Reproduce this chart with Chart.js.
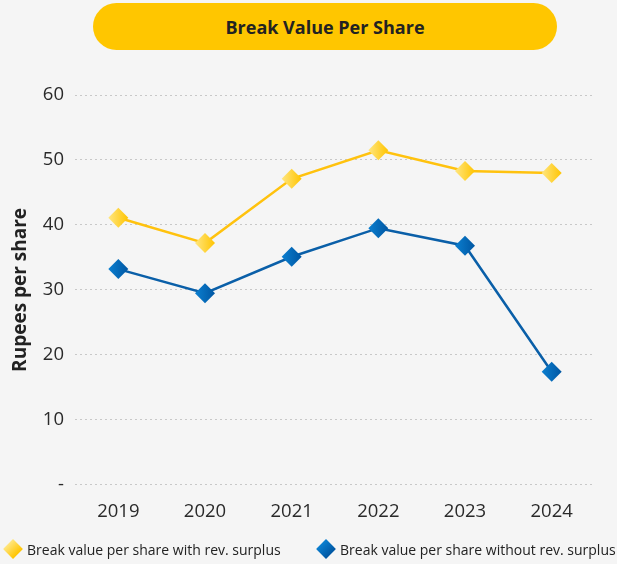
<!DOCTYPE html>
<html>
<head>
<meta charset="utf-8">
<script src="https://cdn.jsdelivr.net/npm/chart.js@4"></script>
<style>
  html, body { margin: 0; padding: 0; background: #f5f5f5; }
  #wrap { position: relative; width: 617px; height: 564px; overflow: hidden; }
  #title {
    position: absolute; left: 93px; top: 3px; width: 464px; height: 47px;
    background: #ffc600; border-radius: 24px;
    font: bold 18px 'Open Sans', sans-serif; color: #222;
    display: flex; align-items: center; justify-content: center;
  }
  canvas { position: absolute; left: 0; top: 0; }
  .legend-item {
    position: absolute; top: 539px; height: 20px;
    display: flex; align-items: center;
    font: 14px 'Open Sans', sans-serif; color: #222; white-space: nowrap;
  }
  .legend-item i {
    display: inline-block; width: 14px; height: 14px; margin: 0 7px 0 3px;
    transform: rotate(45deg);
  }
  #leg1 { left: 3px; }
  #leg2 { left: 316px; }
  #leg1 i { background: linear-gradient(90deg, #ffe680, #ffc400); }
  #leg2 i { background: linear-gradient(90deg, #0b7fd0, #0056a2); }
</style>
</head>
<body>
<div id="wrap">
  <canvas id="bvps" width="617" height="564"></canvas>
  <div id="title">Break Value Per Share</div>
  <div class="legend-item" id="leg1"><i></i><span id="leg1text"></span></div>
  <div class="legend-item" id="leg2"><i></i><span id="leg2text"></span></div>
</div>
<script>
const years = ['2019', '2020', '2021', '2022', '2023', '2024'];
const seriesNames = ['Break value per share with rev. surplus', 'Break value per share without rev. surplus'];
const withSurplus = [41.1, 37.2, 47.1, 51.5, 48.3, 48.0];
const withoutSurplus = [33.2, 29.5, 35.1, 39.5, 36.8, 17.4];
const yTicks = [0, 10, 20, 30, 40, 50, 60];

const YELLOW = '#ffc20e';
const BLUE = '#0a5fa8';

// horizontal gradient across each diamond marker
const markerFill = (light, dark) => (ctx) => {
    const chart = ctx.chart;
    const x = chart.scales && chart.scales.x ? chart.scales.x.getPixelForValue(ctx.dataIndex) : null;
    if (x === null || Number.isNaN(x)) return dark;
    const g = chart.ctx.createLinearGradient(x - 10, 0, x + 10, 0);
    g.addColorStop(0, light);
    g.addColorStop(1, dark);
    return g;
};

document.addEventListener('DOMContentLoaded', () => {
    document.getElementById('leg1text').textContent = seriesNames[0];
    document.getElementById('leg2text').textContent = seriesNames[1];

    Chart.defaults.font.family = "'Open Sans', sans-serif";
    Chart.defaults.color = '#2a2a2a';

    new Chart(document.getElementById('bvps'), {
        type: 'line',
        data: {
            labels: years,
            datasets: [{
                label: seriesNames[0],
                data: withSurplus,
                borderColor: YELLOW,
                pointBackgroundColor: markerFill('#ffe680', '#ffc400'),
                pointBorderWidth: 0,
                pointStyle: 'rectRot',
                pointRadius: 10,
                borderWidth: 2.5,
                tension: 0
            }, {
                label: seriesNames[1],
                data: withoutSurplus,
                borderColor: BLUE,
                pointBackgroundColor: markerFill('#0b7fd0', '#0056a2'),
                pointBorderWidth: 0,
                pointStyle: 'rectRot',
                pointRadius: 10,
                borderWidth: 2.5,
                tension: 0
            }]
        },
        options: {
            responsive: false,
            animation: false,
            layout: { padding: { top: 95, right: 22, left: 0, bottom: 25 } },
            plugins: {
                legend: { display: false },
                tooltip: { enabled: false }
            },
            scales: {
                y: {
                    min: 0,
                    max: 60,
                    afterBuildTicks: (axis) => { axis.ticks = yTicks.map(v => ({ value: v })); },
                    afterFit: (axis) => { axis.width = 75; },
                    ticks: {
                        font: { size: 18.5 },
                        padding: 11,
                        callback: (v) => (v === 0 ? '-' : v)
                    },
                    grid: { color: '#c8c8c8', lineWidth: 1, drawTicks: false },
                    border: { display: false, dash: [2, 3] },
                    title: {
                        display: true,
                        text: 'Rupees per share',
                        font: { size: 19, weight: 'bold' },
                        color: '#222',
                        padding: { top: 9, bottom: 0 }
                    }
                },
                x: {
                    offset: true,
                    grid: { display: false, drawTicks: false },
                    border: { display: false },
                    ticks: { font: { size: 18.5 }, padding: 16 }
                }
            }
        }
    });
});
</script>
</body>
</html>
